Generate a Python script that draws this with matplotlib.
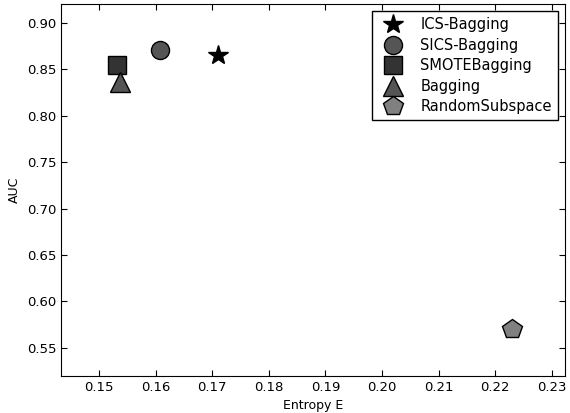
import matplotlib
matplotlib.use("Agg")
import matplotlib.pyplot as plt

methods = ["ICS-Bagging", "SICS-Bagging", "SMOTEBagging", "Bagging", "RandomSubspace"]
entropy = [0.1711, 0.1608, 0.1532, 0.1537, 0.2230]
auc = [0.8655, 0.8705, 0.8550, 0.8360, 0.5700]
markers = ["*", "o", "s", "^", "p"]
colors = ["black", "#555555", "#333333", "#555555", "#808080"]
sizes = [15, 13, 13, 14, 15]

fig = plt.figure(figsize=(5.7, 4.13), dpi=100)
ax = fig.add_axes([0.107, 0.09, 0.884, 0.90])

for m, x, y, mk, c, s in zip(methods, entropy, auc, markers, colors, sizes):
    ax.plot([x], [y], linestyle="none", marker=mk, color=c, markersize=s,
            markeredgecolor="black", markeredgewidth=1.0, label=m)

ax.set_xlim(0.1433, 0.2323)
ax.set_ylim(0.52, 0.92)
ax.set_xticks([0.15, 0.16, 0.17, 0.18, 0.19, 0.20, 0.21, 0.22, 0.23])
ax.set_yticks([0.55, 0.60, 0.65, 0.70, 0.75, 0.80, 0.85, 0.90])
ax.tick_params(direction="in", top=True, right=True, labelsize=9.5, length=4)
ax.set_xlabel("Entropy E", fontsize=9)
ax.set_ylabel("AUC", fontsize=9)

leg = ax.legend(loc="upper right", numpoints=1, fontsize=10.5, fancybox=False,
                framealpha=1, borderaxespad=0.5, handletextpad=0.9,
                labelspacing=0.38, markerscale=1.0)
leg.get_frame().set_edgecolor("black")

fig.savefig("out.png", dpi=100)
